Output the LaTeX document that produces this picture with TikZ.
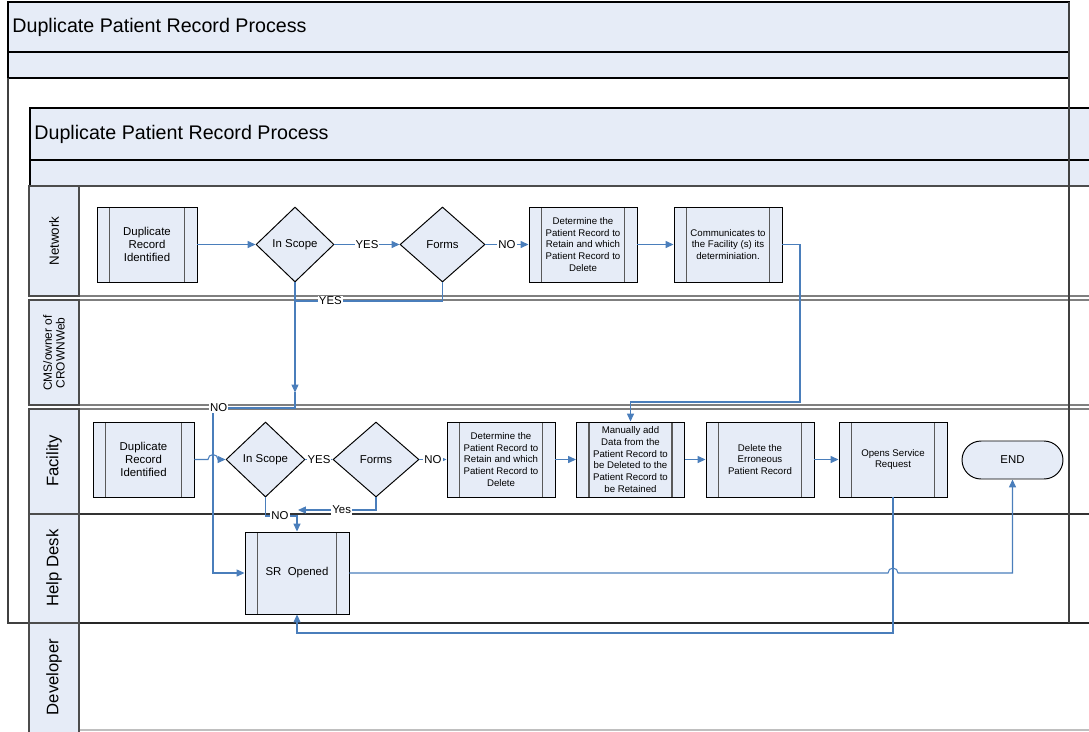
\documentclass[tikz,border=0pt]{standalone}
\usepackage{fontspec}
\setmainfont{Liberation Sans}
\usetikzlibrary{arrows.meta,calc,shapes.geometric}
\definecolor{poolblue}{HTML}{E6ECF7}
\definecolor{flowblue}{HTML}{4A7EBB}
\definecolor{lanegray}{HTML}{7F7F7F}
\newcommand\titletxt{\fontsize{11.2}{13}\selectfont}
\newcommand\boxtxt{\fontsize{6.5}{7.6}\selectfont}
\newcommand\smalltxt{\fontsize{5.5}{6.75}\selectfont}
\newcommand\lanetxt{\fontsize{9.5}{11}\selectfont}
\newcommand\lanesmall{\fontsize{6.8}{7.3}\selectfont}
\tikzset{
  >={Triangle[length=4.5pt,width=4pt]},
  proc/.style={draw, fill=poolblue, line width=0.55pt, minimum width=2.16cm,
    minimum height=1.5cm, inner sep=1pt, align=center, font=\smalltxt,
    path picture={\draw[line width=0.9pt, black!65]
      ([xshift=0.25cm]path picture bounding box.north west) -- ([xshift=0.25cm]path picture bounding box.south west)
      ([xshift=-0.25cm]path picture bounding box.north east) -- ([xshift=-0.25cm]path picture bounding box.south east);}},
  decide/.style={diamond, draw, fill=poolblue, line width=0.55pt, minimum height=1.5cm,
    inner sep=0pt, font=\boxtxt},
  flow/.style={draw=flowblue, line width=0.6pt},
  lbl/.style={fill=white, inner sep=0.6pt, font=\boxtxt},
  lanehead/.style={draw=black!70, fill=poolblue, line width=0.7pt},
  lanelabel/.style={rotate=90, font=\lanetxt},
  laneline/.style={draw=lanegray, line width=1.1pt},
}

\begin{document}
\begin{tikzpicture}[x=0.02cm, y=-0.02cm]
%%%%% START %%%%%
\clip (0,0) rectangle (1089,731);

% outer pool
\draw[fill=poolblue, line width=0.6pt] (8,2) rectangle (1069,52);
\draw[fill=poolblue, line width=0.6pt] (8,52) rectangle (1069,78);
\node[anchor=west, inner sep=0pt, font=\titletxt] (outertitle) at (12,27) {Duplicate Patient Record Process};
\draw[black!75, line width=0.7pt] (8,78) -- (8,623) -- (30,623);

% inner pool
\draw[fill=poolblue, line width=0.6pt] (30,108) rectangle (1095,160);
\draw[fill=poolblue, line width=0.6pt] (30,160) rectangle (1095,186);
\node[anchor=west, inner sep=0pt, font=\titletxt] (innertitle) at (34,134) {Duplicate Patient Record Process};

% lanes
\draw[laneline, black!70, line width=1.4pt] (30,186) -- (1095,186);
\draw[laneline] (79,296) -- (1095,296);
\draw[laneline] (79,300) -- (1095,300);
\draw[laneline] (79,405) -- (1095,405);
\draw[laneline] (79,409) -- (1095,409);
\draw[black!80, line width=1pt] (79,514) -- (1095,514);
\draw[black!85, line width=1.2pt] (29,623) -- (1095,623);
\draw[black!25, line width=0.6pt] (79,730) -- (1095,730);

\draw[lanehead] (29,186) rectangle (79,296);
\draw[lanehead] (29,300) rectangle (79,405);
\draw[lanehead] (29,409) rectangle (79,514);
\draw[lanehead] (29,514) rectangle (79,623);
\draw[lanehead] (29,623) rectangle (79,740);
\node[lanelabel, font=\fontsize{7.6}{8}\selectfont] (lbnet) at (54,241) {Network};
\node[lanelabel, font=\lanesmall, align=center] (lbcms) at (54,353) {CMS/owner of\\CROWNWeb};
\node[lanelabel] (lbfac) at (54,461) {Facility};
\node[lanelabel] (lbhelp) at (54,568) {Help Desk};
\node[lanelabel] (lbdev) at (54,677) {Developer};

% Network
\node[proc, minimum width=2cm, font=\boxtxt] (nwdup) at (147,244.5) {Duplicate\\Record\\Identified};
\node[decide, minimum width=1.56cm] (nwscope) at (295,244.5) {In Scope};
\node[decide, minimum width=1.7cm] (nwforms) at (442.5,244.5) {Forms};
\node[proc] (nwdet) at (583,244.5) {Determine the\\Patient Record to\\Retain and which\\Patient Record to\\Delete};
\node[proc] (nwcomm) at (728,244.5) {Communicates to\\the Facility (s) its\\determiniation.};

% Facility
\node[proc, minimum width=2.02cm, font=\boxtxt] (fadup) at (143.5,459.5) {Duplicate\\Record\\Identified};
\node[decide, minimum width=1.58cm] (fascope) at (265.5,459.5) {In Scope};
\node[decide, minimum width=1.72cm] (faforms) at (376,459.5) {Forms};
\node[proc] (fadet) at (501,459.5) {Determine the\\Patient Record to\\Retain and which\\Patient Record to\\Delete};
\node[proc] (faadd) at (630.5,459.5) {Manually add\\Data from the\\Patient Record to\\be Deleted to the\\Patient Record to\\be Retained};
\node[proc] (fadel) at (760,459.5) {Delete the\\Erroneous\\Patient Record};
\node[proc] (faopen) at (893,459.5) {Opens Service\\Request};
\node[draw, fill=poolblue, rounded corners=0.38cm, line width=0.55pt, minimum width=2.02cm,
  minimum height=0.76cm, font=\boxtxt] (faend) at (1012.5,460) {END};

% Help Desk
\node[proc, minimum width=2.08cm, minimum height=1.64cm, font=\boxtxt] (hdsr) at (297,573) {SR\ \ Opened};

% flows
\coordinate (commturn) at (800,402);
\coordinate (noturn) at (213,408);
\coordinate (yesend) at (298,510);
\draw[flow,->] (nwdup) -- (nwscope);
\draw[flow,->] (nwscope) -- node[lbl] (lbyesa) {YES} (nwforms);
\draw[flow,->] (nwforms) -- node[lbl] (lbnoa) {NO} (nwdet);
\draw[flow,->] (nwdet) -- (nwcomm);
\draw[flow,->] (nwcomm.east) -| (commturn) -| (faadd.north);
\draw[flow] (nwforms.south) |- node[lbl, pos=0.88] (lbyesb) {YES} (nwscope.south |- 0,301);
\draw[flow,->] (nwscope.south) -- ++(0,110);
\draw[flow,->] (nwscope.south) ++(0,110) -- (nwscope.south |- noturn)
  -- node[lbl, pos=0.93] (lbnob) {NO} (noturn) |- (hdsr.west);

\draw[flow,->] (fadup.east) -- ([xshift=-0.1cm]noturn |- fadup.east)
  arc[start angle=180, end angle=0, radius=0.1cm] -- (fascope.west);
\draw[flow,->] (fascope) -- node[lbl] (lbyesc) {YES} (faforms);
\draw[flow,->] (faforms) -- node[lbl] (lbnoc) {NO} (fadet);
\draw[flow,->] (fadet) -- (faadd);
\draw[flow,->] (faadd) -- (fadel);
\draw[flow,->] (fadel) -- (faopen);
\draw[flow,->] (faforms.south) |- node[lbl, pos=0.72] (lbyesd) {Yes} (yesend);
\draw[flow,->] (fascope.south) |- node[lbl, pos=0.73] (lbnod) {NO} (hdsr.north |- 0,516) -- (hdsr.north);

\draw[flow,->] (hdsr.east) -- ([xshift=-0.1cm]faopen.south |- hdsr.east)
  arc[start angle=180, end angle=0, radius=0.1cm] -- (faend.south |- hdsr.east) -- (faend.south);
\draw[flow,->] (faopen.south) -- (faopen.south |- 0,633) -| (hdsr.south);

% outer pool right edge
\draw[black!75, line width=0.7pt] (1069,2) -- (1069,623);
%%%%% END %%%%%
\end{tikzpicture}
\end{document}
